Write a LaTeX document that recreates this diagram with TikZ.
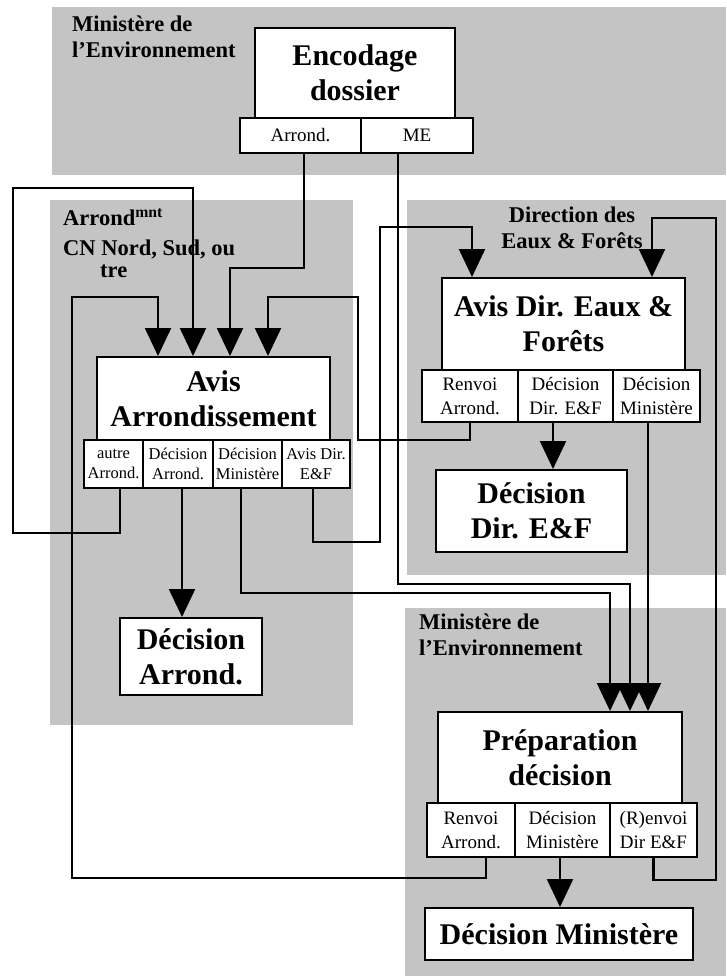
\documentclass[tikz,border=0pt]{standalone}
\usepackage{fontspec}
\setmainfont{Liberation Serif}
\usetikzlibrary{arrows.meta}
\definecolor{regiongray}{RGB}{196,196,196}
\begin{document}
\begin{tikzpicture}[x=1pt,y=-1pt,
  region/.style={fill=regiongray,draw=none},
  rtitle/.style={font=\fontsize{22.5}{26}\selectfont\bfseries,inner sep=0pt},
  box/.style={draw,fill=white,line width=2pt,inner sep=2pt,align=center,
    font=\fontsize{30}{35}\selectfont\bfseries},
  sub/.style={draw,fill=white,line width=2pt,inner sep=1pt,align=center,
    font=\fontsize{19}{24}\selectfont},
  subsm/.style={sub,font=\fontsize{16.5}{20}\selectfont},
  conn/.style={line width=2.3pt},
  arr/.style={conn,-{Triangle[length=28pt,width=26pt]}}
]
\useasboundingbox (0,0) rectangle (726,976);
\fill[white] (0,0) rectangle (726,976);

% regions
\path[region] (52,7) rectangle (726,175);
\path[region] (50,200) rectangle (353,725);
\path[region] (407,200) rectangle (726,575);
\path[region] (405,608) rectangle (726,976);

% region titles (base anchor = baseline of last line)
\node[rtitle,anchor=base west,align=left] (t1) at (72,58) {Ministère de\\l’Environnement};
\node[rtitle,anchor=base west,align=left] (t2) at (63,277) {Arrond\textsuperscript{mnt}\\[4pt]CN Nord, Sud, ou\\[-4pt]\hspace*{37pt}tre};
\node[rtitle,anchor=base,align=center] (t3) at (572,248) {Direction des\\Eaux \& Forêts};
\node[rtitle,anchor=base west,align=left] (t4) at (419,655) {Ministère de\\l’Environnement};

% boxes
\node[box,minimum width=200pt,minimum height=90pt] (enc) at (355,73) {Encodage\\dossier};
\node[sub,minimum width=121pt,minimum height=35pt] (encA) at (300.5,135.5) {Arrond.};
\node[sub,minimum width=112pt,minimum height=35pt] (encM) at (417,135.5) {ME};

\node[box,minimum width=233pt,minimum height=83pt] (avisA) at (213.5,398.5) {Avis\\Arrondissement};
\node[subsm,minimum width=59pt,minimum height=48pt] (avA1) at (113.5,464) {autre\\Arrond.};
\node[subsm,minimum width=70pt,minimum height=48pt] (avA2) at (178,464) {Décision\\Arrond.};
\node[subsm,minimum width=69pt,minimum height=48pt] (avA3) at (247.5,464) {Décision\\Ministère};
\node[subsm,minimum width=68pt,minimum height=48pt] (avA4) at (316,464) {Avis Dir.\\E\&F};

\node[box,minimum width=142pt,minimum height=77pt] (decA) at (191,656.5) {Décision\\Arrond.};

\node[box,minimum width=243pt,minimum height=92pt] (avisD) at (563.5,324) {Avis Dir. Eaux \&\\Forêts};
\node[sub,minimum width=96pt,minimum height=52pt] (avD1) at (470,396) {Renvoi\\Arrond.};
\node[sub,minimum width=95pt,minimum height=52pt] (avD2) at (565.5,396) {Décision\\Dir. E\&F};
\node[sub,minimum width=87pt,minimum height=52pt] (avD3) at (656.5,396) {Décision\\Ministère};

\node[box,minimum width=191pt,minimum height=82pt] (decD) at (531.5,511) {Décision\\Dir. E\&F};

\node[box,minimum width=244pt,minimum height=91pt] (prep) at (560,757.5) {Préparation\\décision};
\node[sub,minimum width=88pt,minimum height=54pt] (pr1) at (471,830) {Renvoi\\Arrond.};
\node[sub,minimum width=95pt,minimum height=54pt] (pr2) at (562.5,830) {Décision\\Ministère};
\node[sub,minimum width=87pt,minimum height=54pt] (pr3) at (653.5,830) {(R)envoi\\Dir E\&F};

\node[box,minimum width=268pt,minimum height=52pt] (decM) at (559,934) {Décision Ministère};

% connectors
\draw[arr] ([xshift=3.5pt]encA.south) |- (230,268) -- ([xshift=16.5pt]avisA.north);
\draw[arr] ([xshift=-19pt]encM.south) |- (630,584) -- ([xshift=70pt]prep.north);
\draw[arr] ([xshift=6.5pt]avA1.south) |- (13,533) |- (193,188) -- ([xshift=-20.5pt]avisA.north);
\draw[arr] ([xshift=4pt]avA2.south) coordinate (s4) -- (s4 |- decA.north);
\draw[arr] ([xshift=-6.5pt]avA3.south) |- (610,593) -- ([xshift=50pt]prep.north);
\draw[arr] ([xshift=-3pt]avA4.south) |- (380,542) |- (472,227) -- ([xshift=-91.5pt]avisD.north);
\draw[arr] (avD1.south) |- (358,440) |- (268,297) -- ([xshift=54.5pt]avisA.north);
\draw[arr] ([xshift=-12.5pt]avD2.south) coordinate (s8) -- (s8 |- decD.north);
\draw[arr] ([xshift=-8.5pt]avD3.south) -- ([xshift=88pt]prep.north);
\draw[arr] ([xshift=15pt]pr1.south) |- (72,878) |- (158,297) -- ([xshift=-55.5pt]avisA.north);
\draw[arr] ([xshift=-2.5pt]pr2.south) coordinate (s11) -- (s11 |- decM.north);
\draw[arr] (pr3.south) |- (716,880) |- (652,218) -- ([xshift=88.5pt]avisD.north);
\end{tikzpicture}
\end{document}
